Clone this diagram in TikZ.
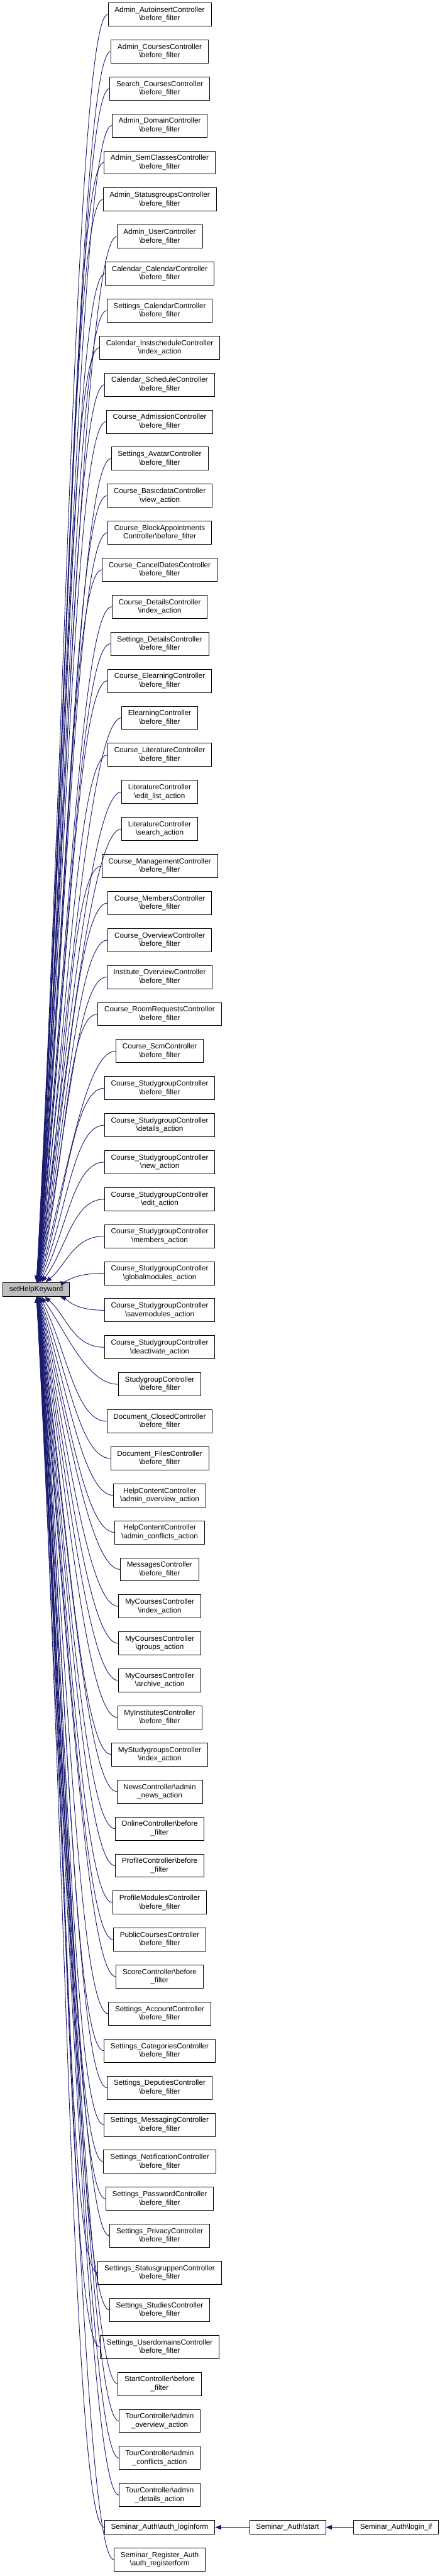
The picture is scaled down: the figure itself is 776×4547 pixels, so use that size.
\documentclass[tikz,border=0pt]{standalone}
\usepackage{fontspec}
\setmainfont{Liberation Sans}
\usetikzlibrary{calc,arrows.meta}
\definecolor{edgec}{HTML}{191970}
\definecolor{srcfill}{HTML}{BFBFBF}
\tikzset{
  ar/.style={-{Triangle[length=8pt,width=6pt]},edgec,line width=0.75pt},
  box/.style={draw=black,line width=0.75pt,fill=white,align=center,inner xsep=8.6pt,inner ysep=0pt,
    minimum height=30.75pt,font=\fontsize{9.75}{11.25}\selectfont},
  one/.style={box,minimum height=18.75pt}
}
\newcommand{\bsl}{\textbackslash}
\newcommand{\bfl}{\bsl before\_filter}

\begin{document}
\begin{tikzpicture}[x=0.75pt,y=-0.75pt]
\useasboundingbox (0,0) rectangle (776,4547);
\node[one,fill=srcfill] (shk) at (64,2276) {setHelpKeyword};
\foreach \lbl [count=\i] in {
  {Admin\_AutoinsertController\\\bfl},
  {Admin\_CoursesController\\\bfl},
  {Search\_CoursesController\\\bfl},
  {Admin\_DomainController\\\bfl},
  {Admin\_SemClassesController\\\bfl},
  {Admin\_StatusgroupsController\\\bfl},
  {Admin\_UserController\\\bfl},
  {Calendar\_CalendarController\\\bfl},
  {Settings\_CalendarController\\\bfl},
  {Calendar\_InstscheduleController\\\bsl index\_action},
  {Calendar\_ScheduleController\\\bfl},
  {Course\_AdmissionController\\\bfl},
  {Settings\_AvatarController\\\bfl},
  {Course\_BasicdataController\\\bsl view\_action},
  {Course\_BlockAppointments\\Controller\bfl},
  {Course\_CancelDatesController\\\bfl},
  {Course\_DetailsController\\\bsl index\_action},
  {Settings\_DetailsController\\\bfl},
  {Course\_ElearningController\\\bfl},
  {ElearningController\\\bfl},
  {Course\_LiteratureController\\\bfl},
  {LiteratureController\\\bsl edit\_list\_action},
  {LiteratureController\\\bsl search\_action},
  {Course\_ManagementController\\\bfl},
  {Course\_MembersController\\\bfl},
  {Course\_OverviewController\\\bfl},
  {Institute\_OverviewController\\\bfl},
  {Course\_RoomRequestsController\\\bfl},
  {Course\_ScmController\\\bfl},
  {Course\_StudygroupController\\\bfl},
  {Course\_StudygroupController\\\bsl details\_action},
  {Course\_StudygroupController\\\bsl new\_action},
  {Course\_StudygroupController\\\bsl edit\_action},
  {Course\_StudygroupController\\\bsl members\_action},
  {Course\_StudygroupController\\\bsl globalmodules\_action},
  {Course\_StudygroupController\\\bsl savemodules\_action},
  {Course\_StudygroupController\\\bsl deactivate\_action},
  {StudygroupController\\\bfl},
  {Document\_ClosedController\\\bfl},
  {Document\_FilesController\\\bfl},
  {HelpContentController\\\bsl admin\_overview\_action},
  {HelpContentController\\\bsl admin\_conflicts\_action},
  {MessagesController\\\bfl},
  {MyCoursesController\\\bsl index\_action},
  {MyCoursesController\\\bsl groups\_action},
  {MyCoursesController\\\bsl archive\_action},
  {MyInstitutesController\\\bfl},
  {MyStudygroupsController\\\bsl index\_action},
  {NewsController\bsl admin\\\_news\_action},
  {OnlineController\bsl before\\\_filter},
  {ProfileController\bsl before\\\_filter},
  {ProfileModulesController\\\bfl},
  {PublicCoursesController\\\bfl},
  {ScoreController\bsl before\\\_filter},
  {Settings\_AccountController\\\bfl},
  {Settings\_CategoriesController\\\bfl},
  {Settings\_DeputiesController\\\bfl},
  {Settings\_MessagingController\\\bfl},
  {Settings\_NotificationController\\\bfl},
  {Settings\_PasswordController\\\bfl},
  {Settings\_PrivacyController\\\bfl},
  {Settings\_StatusgruppenController\\\bfl},
  {Settings\_StudiesController\\\bfl},
  {Settings\_UserdomainsController\\\bfl},
  {StartController\bsl before\\\_filter},
  {TourController\bsl admin\\\_overview\_action},
  {TourController\bsl admin\\\_conflicts\_action},
  {TourController\bsl admin\\\_details\_action}}{
  \pgfmathsetmacro{\ny}{25.5+65.35*(\i-1)}
  \node[box] (n\i) at (282,\ny) {\lbl};
}
\node[one] (n69) at (282,4461) {Seminar\_Auth\bsl auth\_loginform};
\node[box] (n70) at (282,4518) {Seminar\_Register\_Auth\\\bsl auth\_registerform};
\node[one] (sastart) at (508,4461) {Seminar\_Auth\bsl start};
\node[one] (loginif) at (699.5,4461) {Seminar\_Auth\bsl login\_if};

\foreach \i in {1,...,70}
  \draw[ar] let \p1=(n\i.west), \p2=(shk) in
    (n\i.west) .. controls +(-55,0) and ({\x2+40pt},{\y2+0.45*(\y1-\y2)}) .. (shk);
\draw[ar] (sastart) -- (n69);
\draw[ar] (loginif) -- (sastart);
\end{tikzpicture}
\end{document}
